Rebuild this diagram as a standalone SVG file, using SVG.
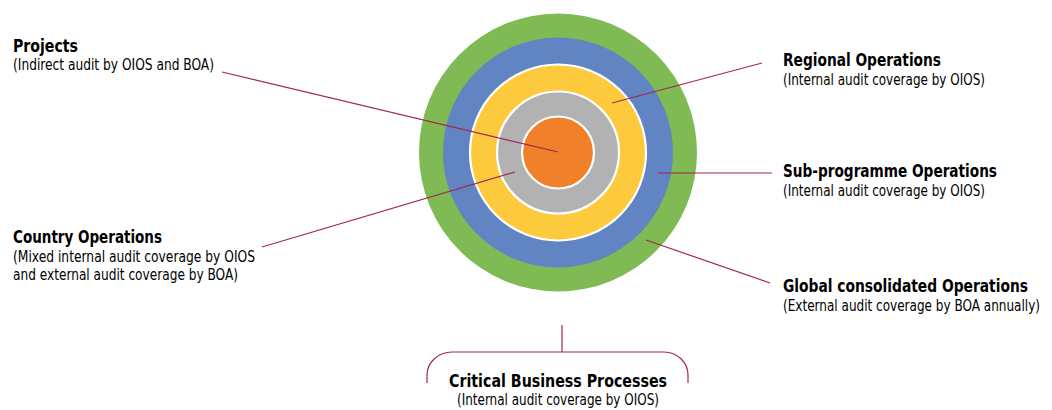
<svg xmlns="http://www.w3.org/2000/svg" width="1052" height="410" viewBox="0 0 1052 410">
<style>
.t{font-family:"Liberation Sans Narrow","DejaVu Sans Condensed","Liberation Sans",sans-serif;fill:#000;}
.b{font-weight:bold;font-size:17.5px;}
.s{font-size:15.5px;}
.m{text-anchor:middle;}
.ln{stroke:#a3264f;stroke-width:1.2;fill:none;}
.ring{stroke:#fff;stroke-width:2.2;}
</style>
<rect width="1052" height="410" fill="#fff"/>
<g id="rings">
<circle cx="558" cy="152.5" r="139" fill="#7fba55"/>
<circle cx="558" cy="152.5" r="115" fill="#6184c2"/>
<circle cx="558" cy="152.5" r="88" fill="#fdca3d" class="ring"/>
<circle cx="558" cy="152.5" r="61" fill="#b2b2b2" class="ring"/>
<circle cx="558" cy="152.5" r="36" fill="#f0802a" class="ring"/>
</g>
<g id="connectors">
<line class="ln" x1="222" y1="72" x2="558" y2="152"/>
<line class="ln" x1="262" y1="247" x2="515" y2="172"/>
<line class="ln" x1="612" y1="103" x2="762" y2="63"/>
<line class="ln" x1="658" y1="173" x2="772" y2="173"/>
<line class="ln" x1="646" y1="240" x2="770" y2="283"/>
<line class="ln" x1="562" y1="325" x2="562" y2="352"/>
<path class="ln" d="M427,383 L427,375 A25,23 0 0 1 452,352 L664,352 A24,23 0 0 1 688,375 L688,383"/>
</g>
<g id="projects">
<text class="t b" x="13" y="52" textLength="65" lengthAdjust="spacingAndGlyphs">Projects</text>
<text class="t s" x="13" y="70" textLength="201" lengthAdjust="spacingAndGlyphs">(Indirect audit by OIOS and BOA)</text>
</g>
<g id="country">
<text class="t b" x="13" y="243" textLength="149" lengthAdjust="spacingAndGlyphs">Country Operations</text>
<text class="t s" x="13" y="262" textLength="242" lengthAdjust="spacingAndGlyphs">(Mixed internal audit coverage by OIOS</text>
<text class="t s" x="13" y="280" textLength="225" lengthAdjust="spacingAndGlyphs">and external audit coverage by BOA)</text>
</g>
<g id="regional">
<text class="t b" x="783" y="66" textLength="158" lengthAdjust="spacingAndGlyphs">Regional Operations</text>
<text class="t s" x="783" y="85" textLength="202" lengthAdjust="spacingAndGlyphs">(Internal audit coverage by OIOS)</text>
</g>
<g id="subprogramme">
<text class="t b" x="783" y="177" textLength="214" lengthAdjust="spacingAndGlyphs">Sub-programme Operations</text>
<text class="t s" x="783" y="196" textLength="202" lengthAdjust="spacingAndGlyphs">(Internal audit coverage by OIOS)</text>
</g>
<g id="global">
<text class="t b" x="783" y="292" textLength="245" lengthAdjust="spacingAndGlyphs">Global consolidated Operations</text>
<text class="t s" x="783" y="311" textLength="257" lengthAdjust="spacingAndGlyphs">(External audit coverage by BOA annually)</text>
</g>
<g id="critical">
<text class="t b m" x="558" y="387" textLength="218" lengthAdjust="spacingAndGlyphs">Critical Business Processes</text>
<text class="t s m" x="558" y="405" textLength="202" lengthAdjust="spacingAndGlyphs">(Internal audit coverage by OIOS)</text>
</g>
</svg>
